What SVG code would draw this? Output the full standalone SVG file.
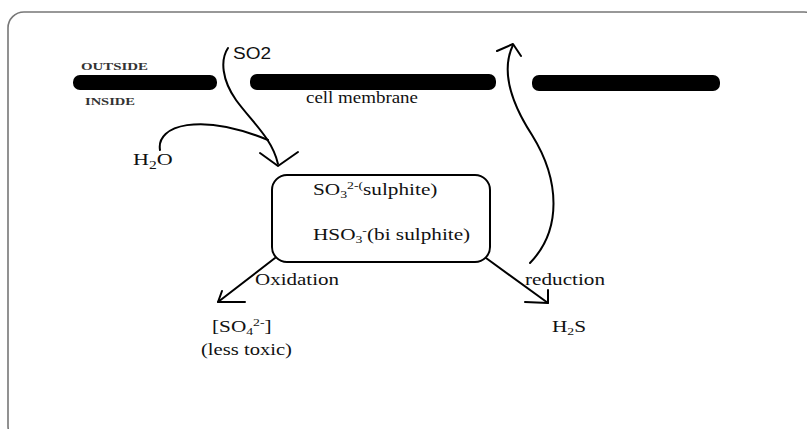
<svg xmlns="http://www.w3.org/2000/svg" width="807" height="429" viewBox="0 0 807 429">
<style>
.t{font-family:"Liberation Serif","Times New Roman",serif;font-size:17px;fill:#111}
.sm{font-family:"Liberation Serif","Times New Roman",serif;font-size:11px;font-weight:bold;fill:#333}
.c{fill:none;stroke:#000;stroke-width:2;stroke-linecap:round;stroke-linejoin:round}
.bar{fill:#000}
</style>
<rect x="8" y="12" width="812" height="430" rx="16" fill="#fff" stroke="#777" stroke-width="1.6"/>
<g id="membrane">
<rect class="bar" x="73" y="75" width="144" height="15" rx="7"/>
<rect class="bar" x="250" y="74" width="246" height="16" rx="7"/>
<rect class="bar" x="532" y="75" width="188" height="16" rx="7"/>
<text class="sm" x="81" y="70" textLength="67" lengthAdjust="spacingAndGlyphs">OUTSIDE</text>
<text class="sm" x="85" y="105" textLength="50" lengthAdjust="spacingAndGlyphs">INSIDE</text>
<text class="t" x="306" y="103" font-size="16" textLength="112" lengthAdjust="spacingAndGlyphs">cell membrane</text>
</g>
<g id="so2"><text x="233" y="59" font-family="Liberation Sans, Arial, sans-serif" font-size="16" fill="#111" textLength="38" lengthAdjust="spacingAndGlyphs">SO2</text></g>
<g id="h2o"><text class="t" transform="translate(133,165) scale(1.3,1)">H<tspan dy="4" font-size="12">2</tspan><tspan dy="-4">O</tspan></text></g>
<g id="sulphite">
<rect x="272" y="175" width="218" height="87" rx="15" fill="#fff" stroke="#000" stroke-width="2"/>
<text class="t" transform="translate(313,195) scale(1.25,1)">SO<tspan dy="3" font-size="11">3</tspan><tspan dy="-9" font-size="11">2-(</tspan><tspan dy="6">sulphite)</tspan></text>
<text class="t" transform="translate(313,240) scale(1.25,1)">HSO<tspan dy="3" font-size="11">3</tspan><tspan dy="-9" font-size="11">-</tspan><tspan dy="6">(bi sulphite)</tspan></text>
</g>
<g id="sulphate">
<text class="t" transform="translate(212,332) scale(1.25,1)">[SO<tspan dy="3" font-size="11">4</tspan><tspan dy="-9" font-size="11">2-</tspan><tspan dy="6">]</tspan></text>
<text class="t" x="201" y="355" textLength="91" lengthAdjust="spacingAndGlyphs">(less toxic)</text>
</g>
<g id="h2s"><text class="t" transform="translate(552,332) scale(1.25,1)">H<tspan dy="3" font-size="11">2</tspan><tspan dy="-3">S</tspan></text></g>
<g id="connectors">
<path class="c" d="M228,48 C220,60 222,80 236,100 C252,122 272,138 278,164"/>
<path class="c" d="M260,153 L278,166 L298,152"/>
<path class="c" d="M160,150 C156,125 200,112 268,140"/>
<path class="c" d="M275,258 L218,302"/>
<path class="c" d="M222,291 L218,302 L245,302"/>
<path class="c" d="M486,258 L548,303"/>
<path class="c" d="M548,290 L548,303 L525,302"/>
<path class="c" d="M530,263 C562,230 560,180 532,135 C512,104 500,72 513,45"/>
<path class="c" d="M497,51 L513,44 L521,56"/>
<text class="t" x="255" y="285" textLength="84" lengthAdjust="spacingAndGlyphs">Oxidation</text>
<text class="t" x="525" y="285" textLength="80" lengthAdjust="spacingAndGlyphs">reduction</text>
</g>
</svg>
